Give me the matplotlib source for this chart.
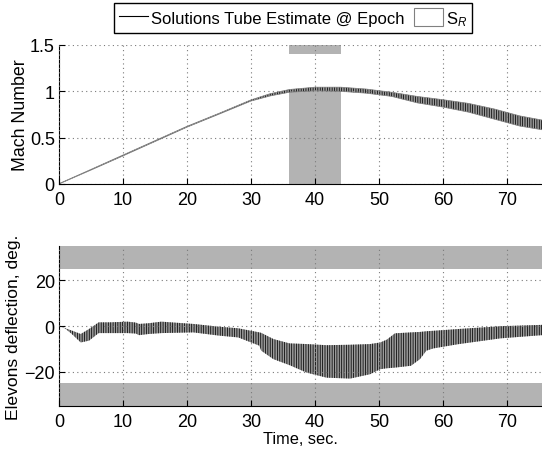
import numpy as np
import matplotlib
matplotlib.use("Agg")
import matplotlib.pyplot as plt
from matplotlib.lines import Line2D
from matplotlib.patches import Patch

plt.rcParams['font.family'] = ['Liberation Sans', 'DejaVu Sans']
plt.rcParams['mathtext.fontset'] = 'custom'
plt.rcParams['mathtext.rm'] = 'Liberation Sans'
plt.rcParams['mathtext.it'] = 'Liberation Sans:italic'
plt.rcParams['hatch.linewidth'] = 0.55

# Mach number tube (upper / lower bound at epochs)
t_mach = [0, 5, 10, 15, 20, 25, 30, 33, 36, 40, 44, 48, 52, 56, 60, 64, 68, 72, 75.5]
mach_hi = [0.004, 0.158, 0.313, 0.468, 0.623, 0.763, 0.908, 0.975, 1.02, 1.045, 1.045,
           1.025, 0.99, 0.945, 0.91, 0.87, 0.81, 0.735, 0.69]
mach_lo = [0.0, 0.15, 0.303, 0.458, 0.613, 0.753, 0.895, 0.95, 0.99, 1.005, 1.0,
           0.98, 0.945, 0.875, 0.83, 0.775, 0.70, 0.625, 0.585]

# elevons deflection tube
t_elev = [0, 1, 2, 3.4, 4.7, 6.2, 8, 10.7, 12, 12.5, 14, 16, 21, 25, 28, 31.3, 31.6,
          33.5, 36, 38.7, 41.8, 45.5, 48.6, 50.2, 51.2, 52.5, 55, 56.4, 57.4, 58.5,
          62.5, 69, 75.5]
elev_hi = [0, -1, -2, -3.5, -1.3, 1.6, 1.6, 1.9, 1.5, 0.9, 1.2, 1.9, 0.9, -0.3, -1.0,
           -2.8, -3.0, -5.7, -7.6, -7.9, -8.4, -8.2, -7.9, -7.2, -6.0, -3.2, -2.8,
           -2.6, -2.3, -2.1, -1.3, -0.1, 0.5]
elev_lo = [0, -1.2, -3.5, -7.2, -6.4, -3.1, -3.1, -3.1, -3.3, -4.0, -3.5, -3.1, -2.8,
           -4.2, -5.0, -8.6, -10.8, -14.5, -17.1, -20.4, -22.6, -23.0, -21.1, -18.9,
           -18.5, -18.2, -17.4, -14.5, -10.8, -9.8, -7.9, -5.4, -4.0]

# S_R regions
sr_t = (36, 44)
sr_mach = [(0, 1.0), (1.4, 1.5)]
sr_elev = [(25, 35), (-35, -25)]

xmax = 75.47
band = '#b3b3b3'
tube_face = '#9a9a9a'

fig = plt.figure(figsize=(5.42, 4.56), dpi=100)
ax1 = fig.add_axes([59/542, 1-185/456, 483/542, 139/456])
ax2 = fig.add_axes([59/542, 1-407/456, 483/542, 160/456])

for y0, y1 in sr_mach:
    ax1.fill_between(sr_t, y0, y1, color=band, lw=0, zorder=0.5)
ax1.fill_between(t_mach, mach_lo, mach_hi, facecolor=tube_face, edgecolor='black',
                 hatch='|' * 7, lw=0)
ax1.plot(t_mach, mach_hi, color='#808080', lw=0.5)
ax1.plot(t_mach, mach_lo, color='#808080', lw=0.5)

for y0, y1 in sr_elev:
    ax2.fill_between([0, xmax], y0, y1, color=band, lw=0, zorder=0.5)
ax2.fill_between(t_elev, elev_lo, elev_hi, facecolor=tube_face, edgecolor='black',
                 hatch='|' * 7, lw=0)

ax1.set_ylim(0, 1.5)
ax1.set_yticks([0, 0.5, 1, 1.5])
ax1.set_yticklabels(['0', '0.5', '1', '1.5'])
ax1.set_ylabel('Mach Number', fontsize=12.8)
ax1.yaxis.set_label_coords(-0.063, 0.5)
ax2.set_ylim(-35, 35)
ax2.set_yticks([-20, 0, 20])
ax2.set_ylabel('Elevons deflection, deg.', fontsize=12.6)
ax2.yaxis.set_label_coords(-0.079, 0.5)
ax2.set_xlabel('Time, sec.', fontsize=11.8, labelpad=1)

for ax in (ax1, ax2):
    ax.set_xlim(0, xmax)
    ax.set_xticks(range(0, 80, 10))
    ax.set_axisbelow(False)
    ax.grid(True, color='#7a7a7a', linestyle=(0, (1, 3)), lw=0.8)
    ax.spines['top'].set_visible(False)
    ax.spines['right'].set_visible(False)
    ax.tick_params(direction='in', length=4, labelsize=13, pad=3)
    ax.tick_params(axis='x', pad=5)

handles = [Line2D([], [], color='black', lw=0.8),
           Patch(facecolor='white', edgecolor='#808080', lw=0.8)]
fig.legend(handles, ['Solutions Tube Estimate @ Epoch', 'S$_{R}$'],
           loc='center', bbox_to_anchor=(293/542, 1-19/456), ncol=2,
           fontsize=12, frameon=True, fancybox=False, edgecolor='black',
           framealpha=1, handlelength=1.75, handleheight=1.25, handletextpad=0.2,
           columnspacing=0.55, borderpad=0.3)

fig.savefig('out.png', dpi=100)
